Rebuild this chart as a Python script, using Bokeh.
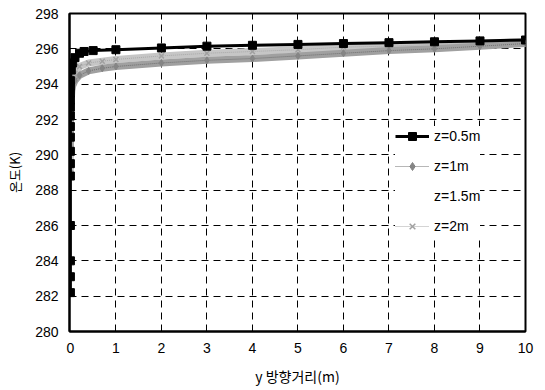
from bokeh.plotting import figure
from bokeh.models import Range1d, FixedTicker, Legend, LegendItem
from bokeh.embed import file_html
from bokeh.resources import INLINE

# ---- data ----
x_05 = [0, 0, 0, 0, 0, 0, 0, 0, 0, 0, 0, 0, 0, 0, 0,
        0.02, 0.05, 0.1, 0.2, 0.3, 0.5, 1, 2, 3, 4, 5, 6, 7, 8, 9, 10]
t_05 = [282.2, 283.1, 284.0, 286.0, 288.8, 289.5, 290.2, 291.0, 291.6, 292.2, 292.7, 293.1, 293.5,
        293.9, 294.2,
        294.8, 295.2, 295.5, 295.75, 295.85, 295.9, 295.95, 296.05, 296.15, 296.2, 296.25, 296.3,
        296.35, 296.4, 296.45, 296.5]

x_1 = [0, 0, 0, 0.02, 0.05, 0.1, 0.2, 0.4, 0.7, 1, 2, 3, 4, 5, 6, 7, 8, 9, 10]
t_1 = [290.2, 292.3, 293.3, 293.6, 293.9, 294.2, 294.5, 294.75, 294.9, 295.0, 295.2, 295.35, 295.45,
       295.6, 295.75, 295.9, 296.0, 296.15, 296.3]

x_15 = [0, 0.1, 0.5, 1, 2, 4, 6, 8, 10]
t_15 = [289.5, 294.4, 295.0, 295.2, 295.4, 295.6, 295.9, 296.1, 296.35]

x_2 = [0, 0, 0, 0.02, 0.05, 0.1, 0.2, 0.4, 0.7, 1, 2, 3, 4, 5, 6, 7, 8, 9, 10]
t_2 = [289.0, 289.5, 291.8, 293.2, 294.0, 294.6, 295.0, 295.2, 295.3, 295.4, 295.6, 295.75, 295.85,
       295.95, 296.1, 296.15, 296.25, 296.3, 296.4]

x_ticks = [0, 1, 2, 3, 4, 5, 6, 7, 8, 9, 10]
y_ticks = [280, 282, 284, 286, 288, 290, 292, 294, 296, 298]

FONT = "Liberation Sans"
KFONT = "Noto Sans CJK KR"

p = figure(width=545, height=390, output_backend="svg", toolbar_location=None,
           x_range=Range1d(-0.02, 10), y_range=Range1d(280, 298),
           min_border_left=69, min_border_right=20, min_border_top=13, min_border_bottom=59)

p.background_fill_color = "white"
p.border_fill_color = "white"
p.outline_line_color = "black"
p.outline_line_width = 2

# grids
for g in (p.xgrid, p.ygrid):
    g.grid_line_color = "black"
    g.grid_line_dash = "7 5"
    g.grid_line_width = 1
p.xgrid.ticker = FixedTicker(ticks=x_ticks[1:-1])
p.ygrid.ticker = FixedTicker(ticks=y_ticks[1:-1])

# axes
p.xaxis.ticker = FixedTicker(ticks=x_ticks)
p.yaxis.ticker = FixedTicker(ticks=y_ticks)
for ax in (p.xaxis[0], p.yaxis[0]):
    ax.axis_line_color = "black"
    ax.axis_line_width = 2
    ax.major_tick_line_color = None
    ax.minor_tick_line_color = None
    ax.major_tick_out = 0
    ax.major_tick_in = 0
    ax.minor_tick_out = 0
    ax.minor_tick_in = 0
    ax.major_label_text_font = FONT
    ax.major_label_text_font_size = "14px"
    ax.major_label_text_color = "black"
    ax.axis_label_text_font = KFONT
    ax.axis_label_text_font_style = "normal"
    ax.axis_label_text_color = "black"
p.xaxis.axis_label = "y 방향거리(m)"
p.yaxis.axis_label = "온도(K)"
p.xaxis.axis_label_text_font_size = "14px"
p.yaxis.axis_label_text_font_size = "13px"
p.xaxis.major_label_standoff = 11
p.xaxis.axis_label_standoff = 10
p.yaxis.major_label_standoff = 11
p.yaxis.axis_label_standoff = 8

# z=2m band (light grey)
p.line(x_2, t_2, line_color="#c6c6c6", line_width=7)
l2 = p.line(x_2, t_2, line_color="#a8a8a8", line_width=1, line_dash="1 1")
s2 = p.scatter(x_2, t_2, marker="x", size=7, line_color="#a0a0a0", line_width=1.5)

# z=1m band (darker grey)
p.line(x_1, t_1, line_color="#a0a0a0", line_width=7)
l1 = p.line(x_1, t_1, line_color="#6e6e6e", line_width=1, line_dash="1 1")
s1 = p.scatter(x_1, t_1, marker="diamond", size=7, fill_color="#858585", line_color="#858585")

# z=1.5m (not visible in the chart)
l15 = p.line(x_15, t_15, line_alpha=0)

# z=0.5m (black)
l05 = p.line(x_05, t_05, line_color="black", line_width=3)
s05 = p.scatter(x_05, t_05, marker="square", size=8, fill_color="black", line_color="black")

legend = Legend(items=[
    LegendItem(label="z=0.5m", renderers=[l05, s05]),
    LegendItem(label="z=1m", renderers=[l1, s1]),
    LegendItem(label="z=1.5m", renderers=[l15]),
    LegendItem(label="z=2m", renderers=[l2, s2]),
], location=(326, 95))
legend.background_fill_color = "white"
legend.background_fill_alpha = 1
legend.border_line_color = None
legend.label_text_font = FONT
legend.label_text_font_size = "14px"
legend.label_text_color = "black"
legend.glyph_width = 34
legend.glyph_height = 20
legend.label_height = 20
legend.label_standoff = 5
legend.spacing = 10
legend.padding = 8
legend.margin = 0
p.add_layout(legend)

open("out.html", "w").write(file_html(p, INLINE))
